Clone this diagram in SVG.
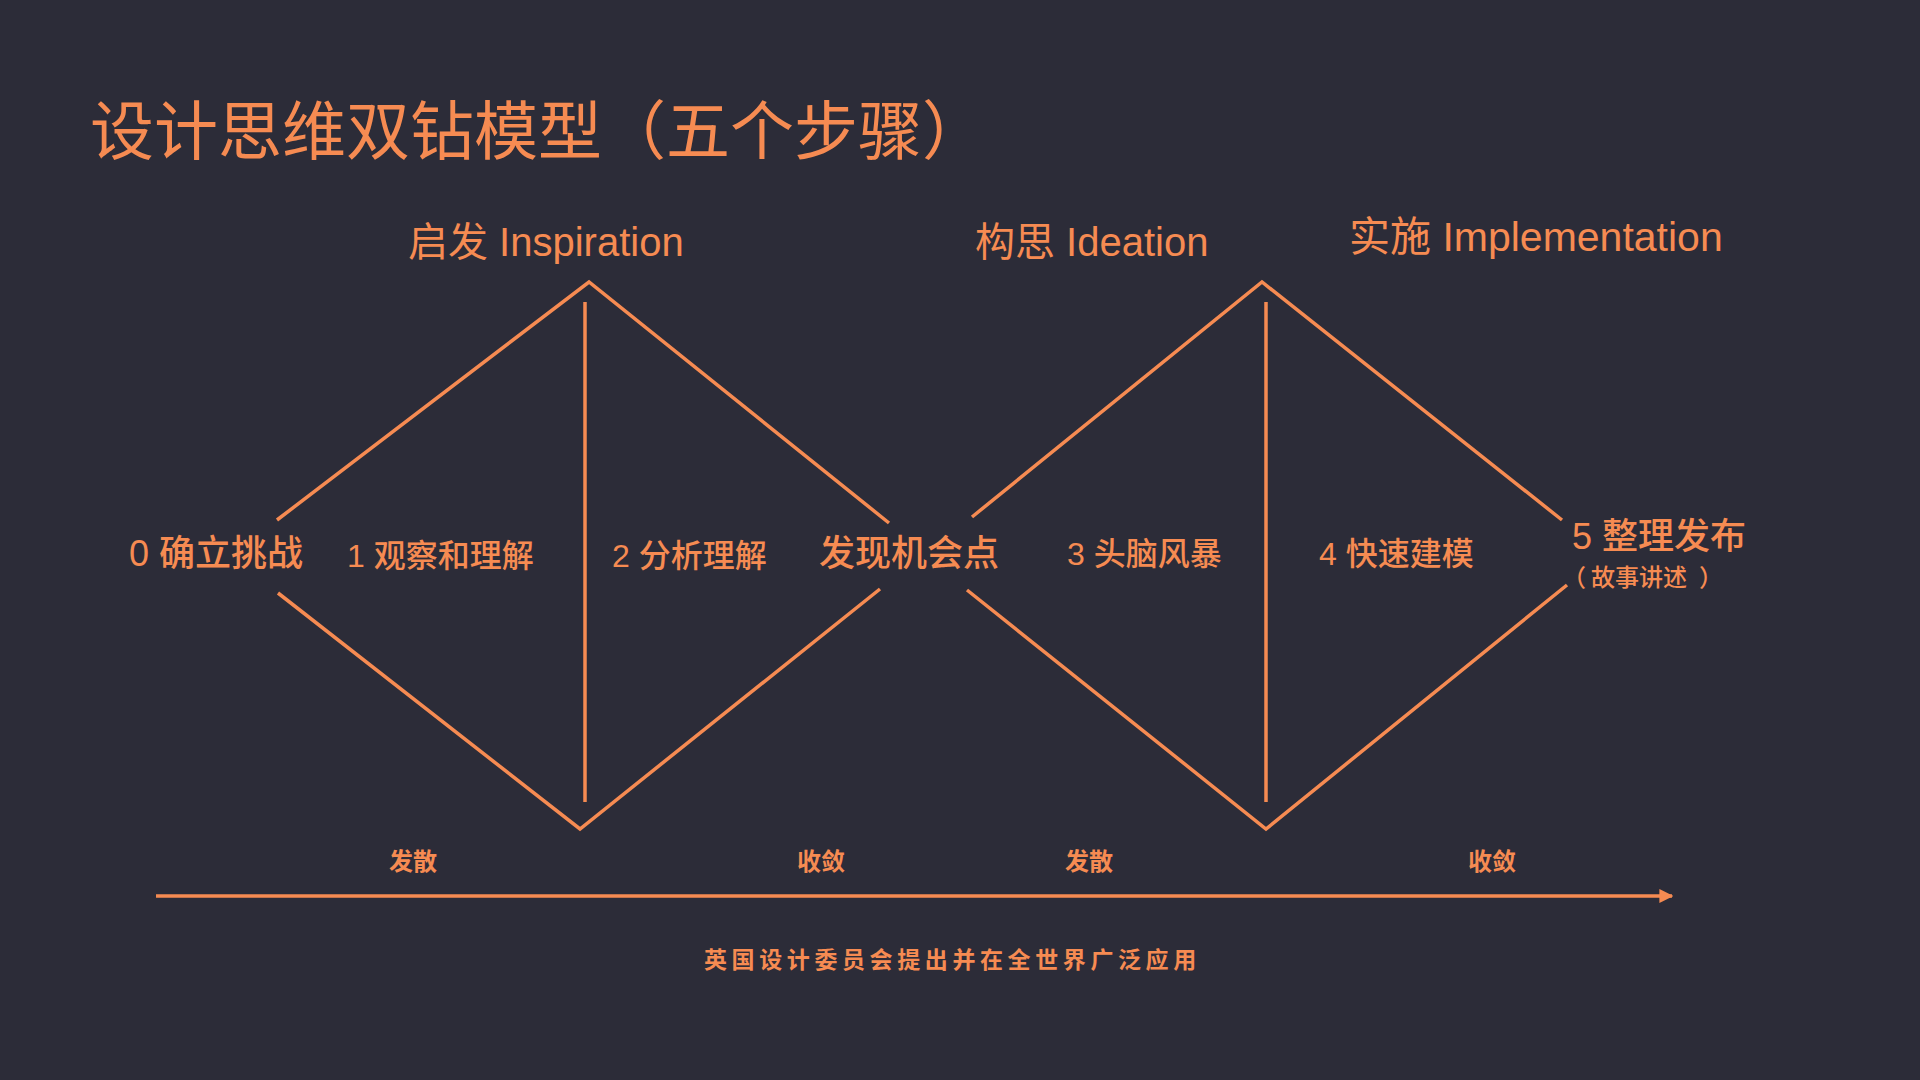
<svg xmlns="http://www.w3.org/2000/svg" width="1920" height="1080" viewBox="0 0 1920 1080">
<style>
.t{fill:#f68b52;font-family:"Liberation Sans","Noto Sans CJK SC",sans-serif}
.m{font-weight:500}
.ln{stroke:#f68b52;stroke-width:3.5;fill:none;stroke-linecap:butt}
</style>
<defs>
<marker id="ah" viewBox="0 0 10 10" refX="9" refY="5" markerWidth="4" markerHeight="4" orient="auto"><path d="M0,0 L10,5 L0,10 z" fill="#f68b52"/></marker>
</defs>
<rect width="1920" height="1080" fill="#2c2c38"/>
<g id="title"><text class="t" x="90" y="154" font-size="64">设计思维双钻模型（五个步骤）</text></g>
<g id="phase-inspiration"><text class="t" x="408" y="256" font-size="40">启发 Inspiration</text></g>
<g id="phase-ideation"><text class="t" x="975" y="256" font-size="40">构思 Ideation</text></g>
<g id="phase-implementation"><text class="t" x="1349" y="251" font-size="41">实施 Implementation</text></g>
<g id="step0"><text class="t m" x="129" y="566" font-size="36">0 确立挑战</text></g>
<g id="step1"><text class="t m" x="347" y="567" font-size="32">1 观察和理解</text></g>
<g id="step2"><text class="t m" x="612" y="567" font-size="32">2 分析理解</text></g>
<g id="opportunity"><text class="t m" x="819" y="566" font-size="36">发现机会点</text></g>
<g id="step3"><text class="t m" x="1067" y="565" font-size="32">3 头脑风暴</text></g>
<g id="step4"><text class="t m" x="1319" y="565" font-size="32">4 快速建模</text></g>
<g id="step5"><text class="t m" x="1572" y="549" font-size="36">5 整理发布</text>
<text class="t m" y="586" font-size="24"><tspan x="1562">（</tspan><tspan x="1591">故事讲述</tspan><tspan x="1699">）</tspan></text></g>
<g id="mode-labels">
<text class="t" x="389" y="870" font-size="24" font-weight="bold">发散</text>
<text class="t" x="797" y="870" font-size="24" font-weight="bold">收敛</text>
<text class="t" x="1065" y="870" font-size="24" font-weight="bold">发散</text>
<text class="t" x="1468" y="870" font-size="24" font-weight="bold">收敛</text>
</g>
<g id="footer"><text class="t" x="704" y="968" font-size="23" font-weight="bold" letter-spacing="4.6">英国设计委员会提出并在全世界广泛应用</text></g>
<g id="connectors">
<polyline class="ln" points="277,520 589,282 889,523"/>
<line class="ln" x1="585" y1="302" x2="585" y2="802"/>
<polyline class="ln" points="278,593 580,829 880,589"/>
<polyline class="ln" points="972,517 1262,282 1562,520"/>
<line class="ln" x1="1266" y1="302" x2="1266" y2="802"/>
<polyline class="ln" points="967,590 1266,829 1567,585"/>
<line class="ln" x1="156" y1="896" x2="1672" y2="896" stroke-width="3" marker-end="url(#ah)"/>
</g>
</svg>
